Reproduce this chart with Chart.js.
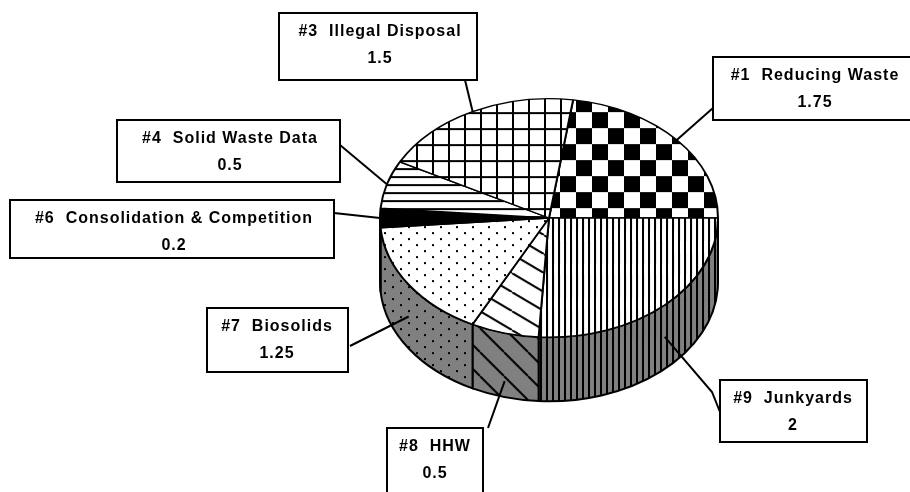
<!DOCTYPE html>
<html lang="en">
<head>
    <meta charset="UTF-8" />
    <title>Pie 3D</title>
    <script src="https://cdn.jsdelivr.net/npm/chart.js"></script>
    <style>
        html, body { margin: 0; padding: 0; background: #fff; }
        canvas { display: block; }
    </style>
</head>
<body>
    <canvas id="pizza" width="910" height="492"></canvas>
</body>
</html>

<script>
    // DADOS
    const categorias = ['#1  Reducing Waste', '#9  Junkyards', '#8  HHW', '#7  Biosolids',
        '#6  Consolidation & Competition', '#4  Solid Waste Data', '#3  Illegal Disposal'];
    const valores = [1.75, 2, 0.5, 1.25, 0.2, 0.5, 1.5];
    const padroes = ['xadrez', 'vertical', 'diagonal', 'pontos', 'solido', 'horizontal', 'grade'];

    // achatamento da elipse e altura da lateral
    const K = 120 / 170;
    const PROF = 64;

    function criarPadrao(tipo, fundo, lado) {
        const c = document.createElement('canvas');
        const g = c.getContext('2d');
        let w = 16, h = 16;
        if (tipo == 'xadrez') { w = 32; h = 32; }
        if (tipo == 'vertical') { w = 6; h = 6; }
        if (tipo == 'horizontal') { w = 8; h = 8; }
        if (tipo == 'pontos') { w = 16; h = 12; }
        if (tipo == 'diagonal') { w = lado ? 24 : 32; h = lado ? 24 : 19; }
        c.width = w; c.height = h;
        g.fillStyle = fundo;
        g.fillRect(0, 0, w, h);
        g.fillStyle = '#000';
        g.strokeStyle = '#000';
        if (tipo == 'xadrez') { g.fillRect(0, 0, 16, 16); g.fillRect(16, 16, 16, 16); }
        if (tipo == 'vertical') g.fillRect(0, 0, 2, h);
        if (tipo == 'horizontal') g.fillRect(0, 0, w, 2);
        if (tipo == 'grade') { g.fillRect(0, 0, 2, h); g.fillRect(0, 0, w, 2); }
        if (tipo == 'pontos') { g.fillRect(0, 0, 2, 2); g.fillRect(8, 6, 2, 2); }
        if (tipo == 'solido') g.fillRect(0, 0, w, h);
        if (tipo == 'diagonal') {
            g.lineWidth = 2;
            g.beginPath();
            [-w, 0, w].forEach(o => { g.moveTo(o, 0); g.lineTo(o + w, h); });
            g.stroke();
        }
        const p = g.createPattern(c, 'repeat');
        p.setTransform(new DOMMatrix().scale(1, 1 / K));
        return p;
    }

    const topo = padroes.map(t => criarPadrao(t, '#fff', false));
    const lateral = padroes.map(t => criarPadrao(t, '#808080', true));

    // CAIXAS DOS ROTULOS (x, y, largura, altura, ponto final da linha, fração da lateral)
    const caixas = [
        { x: 713, y: 57, w: 210, h: 63, fim: [[713, 108]], lado: 0, cx: 815 },
        { x: 720, y: 380, w: 147, h: 62, fim: [[712, 392], [720, 412]], lado: 0.5, cx: 793 },
        { x: 387, y: 428, w: 96, h: 70, fim: [[488, 428]], lado: 0.75, cx: 435 },
        { x: 207, y: 308, w: 141, h: 64, fim: [[350, 346]], lado: 0.5, cx: 277 },
        { x: 10, y: 200, w: 324, h: 58, fim: [[334, 213]], lado: 0, cx: 174 },
        { x: 117, y: 120, w: 223, h: 62, fim: [[340, 145]], lado: 0, cx: 230 },
        { x: 279, y: 13, w: 198, h: 67, fim: [[465, 80]], lado: 0, cx: 380 }
    ];

    function transformar(ctx, cx, cy) {
        ctx.translate(cx, cy);
        ctx.scale(1, K);
        ctx.translate(-cx, -cy);
    }

    const pizza3d = {
        id: 'pizza3d',
        beforeDatasetsDraw(chart) {
            const ctx = chart.ctx;
            const arcos = chart.getDatasetMeta(0).data;
            const cx = arcos[0].x, cy = arcos[0].y, r = arcos[0].outerRadius;
            const d = PROF / K;
            const volta = 2 * Math.PI;
            // LATERAL (só a parte da frente)
            arcos.forEach((arco, i) => {
                let a1 = arco.startAngle, a2 = arco.endAngle;
                while (a1 < 0) { a1 += volta; a2 += volta; }
                while (a1 >= volta) { a1 -= volta; a2 -= volta; }
                [[0, Math.PI], [volta, volta + Math.PI]].forEach(f => {
                    const s = Math.max(a1, f[0]), e = Math.min(a2, f[1]);
                    if (e <= s) return;
                    ctx.save();
                    transformar(ctx, cx, cy);
                    ctx.beginPath();
                    ctx.arc(cx, cy, r, s, e);
                    ctx.arc(cx, cy + d, r, e, s, true);
                    ctx.closePath();
                    ctx.fillStyle = lateral[i];
                    ctx.fill();
                    ctx.restore();
                    ctx.lineWidth = 2;
                    ctx.strokeStyle = '#000';
                    ctx.stroke();
                });
            });
            // topo achatado
            ctx.save();
            transformar(ctx, cx, cy);
        },
        afterDatasetsDraw(chart) {
            const ctx = chart.ctx;
            ctx.restore();
            const arcos = chart.getDatasetMeta(0).data;
            const cx = arcos[0].x, cy = arcos[0].y, r = arcos[0].outerRadius;
            ctx.save();
            ctx.lineWidth = 2;
            ctx.strokeStyle = '#000';
            arcos.forEach((arco, i) => {
                const b = caixas[i];
                const meio = (arco.startAngle + arco.endAngle) / 2;
                const px = cx + r * Math.cos(meio);
                const py = cy + K * r * Math.sin(meio) + PROF * b.lado;
                ctx.beginPath();
                ctx.moveTo(px, py);
                b.fim.forEach(p => ctx.lineTo(p[0], p[1]));
                ctx.stroke();
            });
            ctx.font = 'bold 16px "Liberation Sans", Arial, sans-serif';
            ctx.letterSpacing = '1px';
            ctx.textAlign = 'center';
            ctx.textBaseline = 'middle';
            caixas.forEach((b, i) => {
                ctx.fillStyle = '#fff';
                ctx.fillRect(b.x, b.y, b.w, b.h);
                ctx.strokeRect(b.x, b.y, b.w, b.h);
                ctx.fillStyle = '#000';
                ctx.fillText(categorias[i], b.cx, b.y + 19);
                ctx.fillText(String(valores[i]), b.cx, b.y + 46);
            });
            ctx.restore();
        }
    };

    const grafico = document.getElementById('pizza');
    new Chart(grafico, {
        type: 'pie',
        data: {
            labels: categorias,
            datasets: [
                {
                    data: valores,
                    backgroundColor: topo,
                    borderColor: '#000',
                    borderWidth: 2,
                    clip: false
                }
            ]
        },
        options: {
            responsive: false,
            animation: false,
            events: [],
            rotation: 8.2,
            layout: {
                padding: { left: 379, right: 191, top: 48, bottom: 104 }
            },
            plugins: {
                legend: { display: false },
                tooltip: { enabled: false }
            }
        },
        plugins: [pizza3d]
    });
</script>
